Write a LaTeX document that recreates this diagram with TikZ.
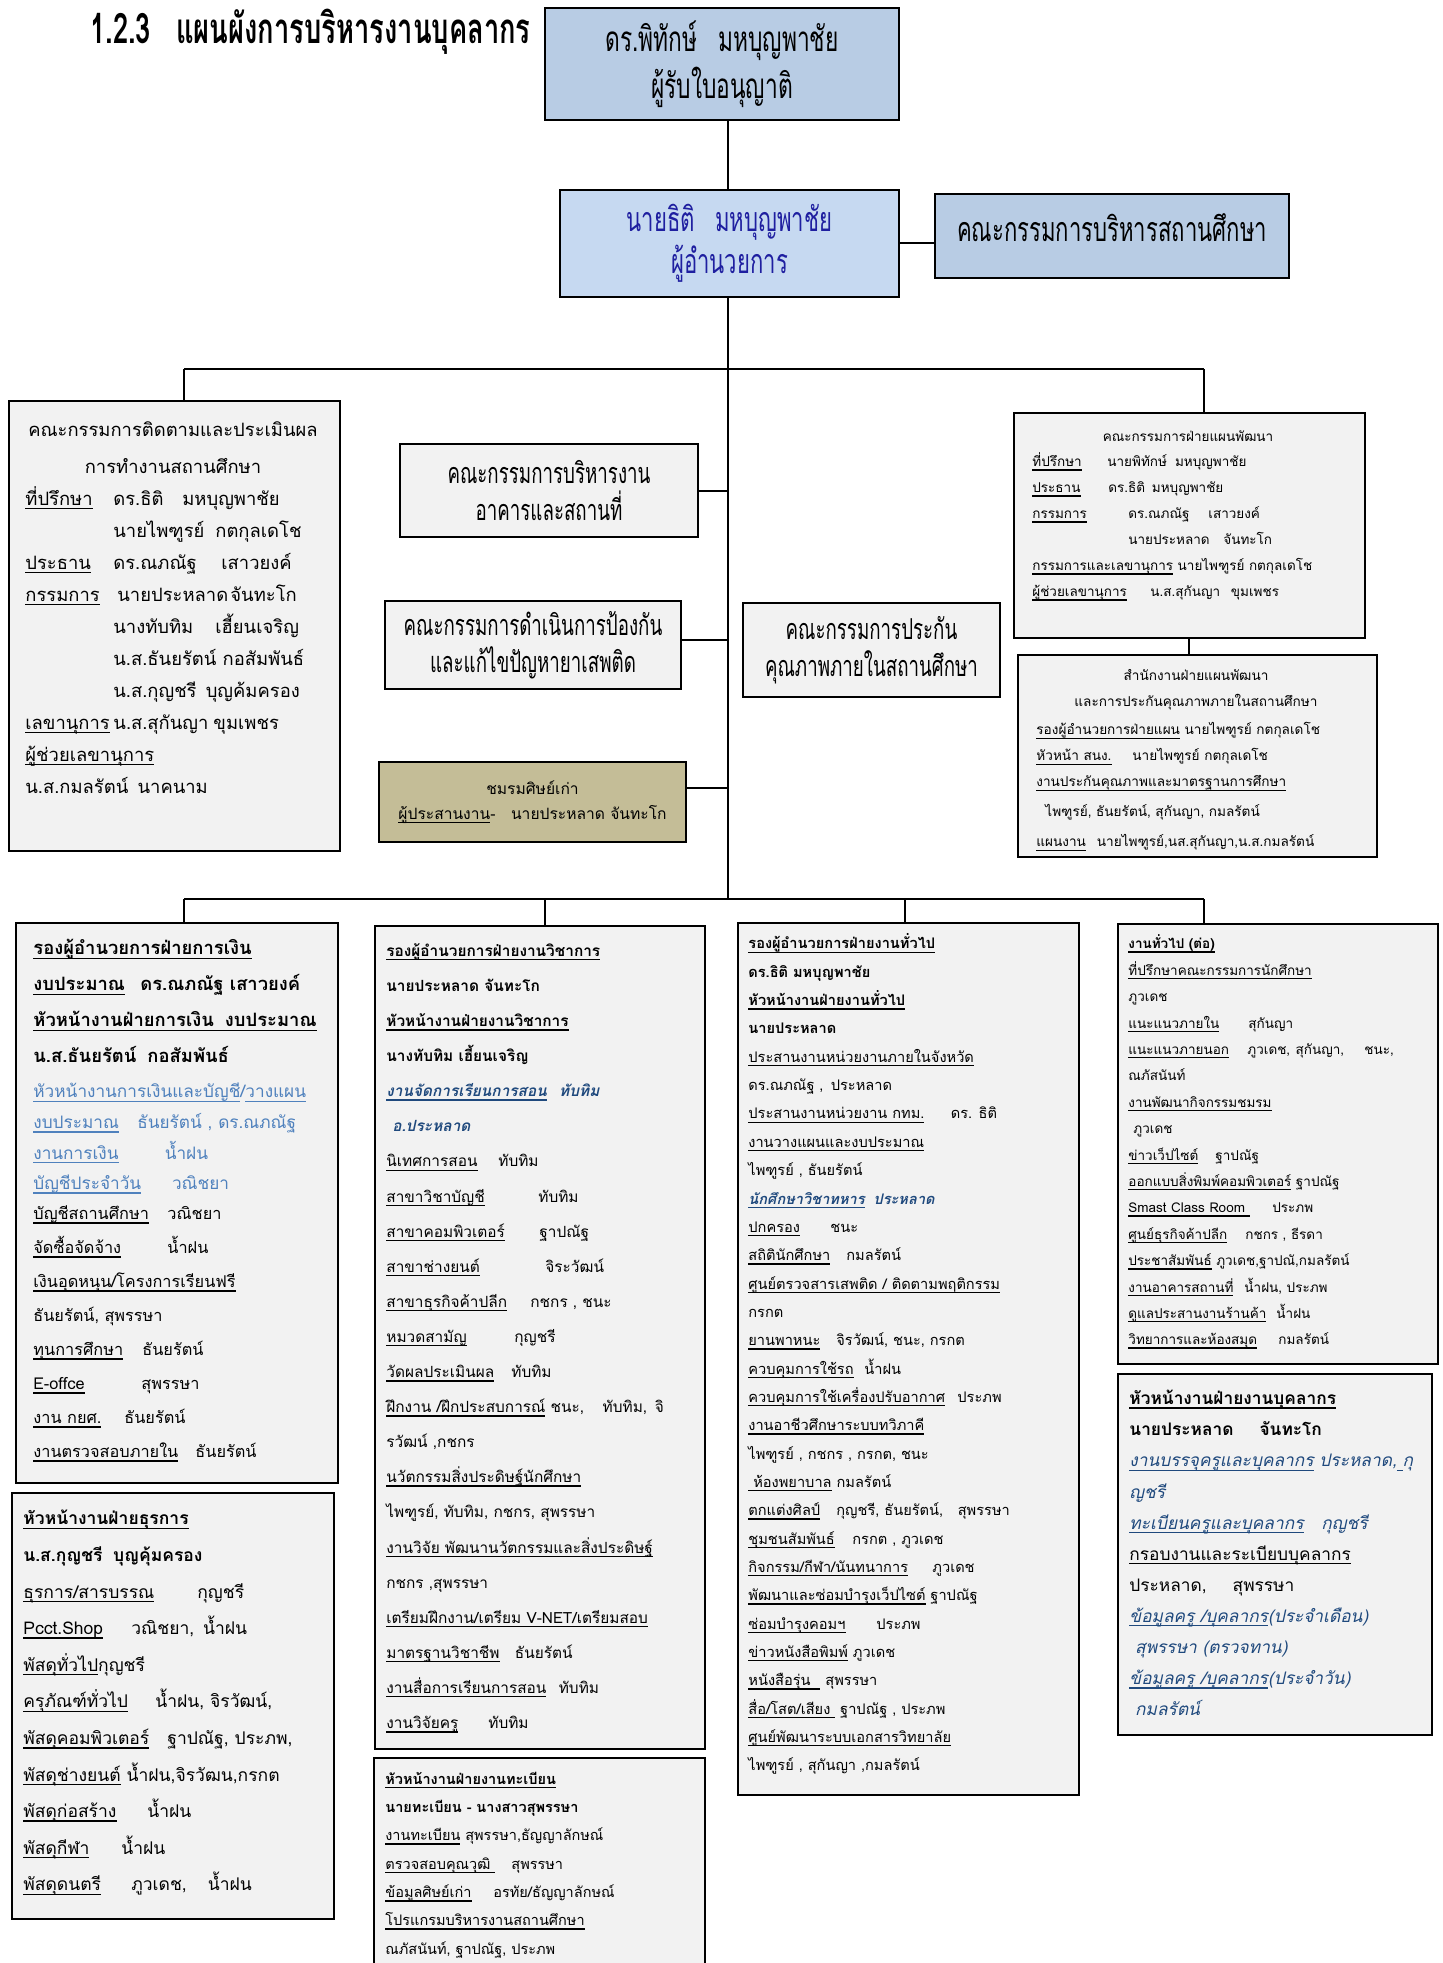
\documentclass[tikz,border=0pt]{standalone}
\usepackage{fontspec}
\setmainfont[Script=Thai]{Loma}
\newfontfamily\condfont[Script=Thai,FakeStretch=0.65]{Loma}
\usepackage{xcolor}
\usetikzlibrary{positioning}
\definecolor{hdblue}{RGB}{184,204,228}
\definecolor{dirblue}{RGB}{198,217,241}
\definecolor{boxgray}{RGB}{242,242,242}
\definecolor{khaki}{RGB}{196,189,151}
\definecolor{navytext}{RGB}{31,31,160}
\definecolor{linkblue}{RGB}{79,129,189}
\definecolor{darkblue}{RGB}{31,73,125}
\newcommand\ulx[1]{\setbox0\hbox{#1}\rlap{\vrule height -1.3pt depth 2pt width \wd0}\box0\relax}
\newcommand\lbl[2]{\makebox[#1][l]{#2}}
\newcommand\finhd{\fontsize{9.2}{17}\selectfont\bfseries}
\newcommand\finlink{\fontsize{8.6}{17}\selectfont\color{linkblue}}
\newcommand\blit{\itshape\color{darkblue}}

\begin{document}
\begin{tikzpicture}[x=0.5pt,y=-0.5pt,
    topbox/.style={draw,line width=1.3pt,fill=hdblue,inner sep=0pt,align=center,font=\condfont\fontsize{17.5}{23.5}\selectfont},
    midbox/.style={draw,line width=0.9pt,fill=boxgray,inner sep=0pt,align=center,font=\condfont\fontsize{14.4}{18.5}\selectfont},
    listbox/.style={draw,line width=0.9pt,fill=boxgray,inner sep=0pt,anchor=north west},
    listtext/.style={anchor=north west,inner sep=0pt,align=left},
    link/.style={line width=1pt}]
  \useasboundingbox (0,0) rectangle (1442,1963);

  % title
  \node[anchor=west,inner sep=0pt,font=\condfont\bfseries\fontsize{21}{24}\selectfont] (title) at (90,32) {1.2.3\hspace{0.6em}แผนผังการบริหารงานบุคลากร};

  % top of the chart
  \node[topbox,minimum width=177pt,minimum height=56pt] (lic) at (722,64) {ดร.พิทักษ์\hspace{0.6em}มหบุญพาชัย\\ผู้รับใบอนุญาติ};
  \node[topbox,fill=dirblue,text=navytext,minimum width=169.5pt,minimum height=53.5pt,font=\condfont\fontsize{17}{21}\selectfont] (dir) at (729.5,243.5) {นายธิติ\hspace{0.6em}มหบุญพาชัย\\ผู้อำนวยการ};
  \node[topbox,minimum width=177pt,minimum height=42pt] (board) at (1112,236) {};
  \node[inner sep=0pt,font=\condfont\fontsize{17}{20}\selectfont] (boardtxt) at (1112,228) {คณะกรรมการบริหารสถานศึกษา};

  % committees beside the trunk
  \node[midbox,minimum width=149pt,minimum height=46.5pt] (bldg) at (549,490.5) {คณะกรรมการบริหารงาน\\อาคารและสถานที่};
  \node[midbox,minimum width=148pt,minimum height=44pt] (drug) at (533,645) {คณะกรรมการดำเนินการป้องกัน\\และแก้ไขปัญหายาเสพติด};
  \node[midbox,minimum width=128.5pt,minimum height=47pt] (qa) at (871.5,650) {คณะกรรมการประกัน\\คุณภาพภายในสถานศึกษา};
  \node[midbox,fill=khaki,minimum width=153.5pt,minimum height=40pt,font=\fontsize{7.8}{12.5}\selectfont] (alum) at (532.5,802) {ชมรมศิษย์เก่า\\\ulx{ผู้ประสานงาน}-\hspace{1em}นายประหลาด จันทะโก};

  % monitoring committee
  \node[listbox,minimum width=165.5pt,minimum height=225pt] (mon) at (8,400) {};
  \node[align=center,inner sep=0pt,font=\fontsize{9.2}{18.5}\selectfont] (monhead) at (173,447.5) {คณะกรรมการติดตามและประเมินผล\\การทำงานสถานศึกษา};
  \node[listtext,font=\fontsize{9.2}{16}\selectfont] (monlist) at (25,482.6) {%
    \strut\lbl{44pt}{\ulx{ที่ปรึกษา}}\lbl{34.5pt}{ดร.ธิติ}มหบุญพาชัย\\
    \lbl{44pt}{}\lbl{51pt}{นายไพฑูรย์}กตกุลเดโช\\
    \lbl{44pt}{\ulx{ประธาน}}\lbl{54pt}{ดร.ณภณัฐ}เสาวยงค์\\
    \lbl{44pt}{\ulx{กรรมการ}}\hspace{2pt}\lbl{56.5pt}{นายประหลาด}จันทะโก\\
    \lbl{44pt}{}\lbl{51pt}{นางทับทิม}เฮี้ยนเจริญ\\
    \lbl{44pt}{}น.ส.ธันยรัตน์ กอสัมพันธ์\\
    \lbl{44pt}{}น.ส.กุญชรี\hspace{0.5em}บุญค้มครอง\\
    \lbl{44pt}{\ulx{เลขานุการ}}\lbl{50pt}{น.ส.สุกันญา}ขุมเพชร\\
    \ulx{ผู้ช่วยเลขานุการ}\\
    น.ส.กมลรัตน์\hspace{0.5em}นาคนาม};

  % planning committee and office
  \node[listbox,minimum width=175.5pt,minimum height=112.5pt] (plan) at (1013,412) {};
  \node[inner sep=0pt,font=\fontsize{6.75}{13}\selectfont] (planhead) at (1188,436) {คณะกรรมการฝ่ายแผนพัฒนา};
  \node[listtext,font=\fontsize{6.75}{13}\selectfont] (planlist) at (1032,448.2) {%
    \strut\lbl{37.5pt}{\ulx{ที่ปรึกษา}}นายพิทักษ์\hspace{0.6em}มหบุญพาชัย\\
    \lbl{38pt}{\ulx{ประธาน}}ดร.ธิติ\hspace{0.5em}มหบุญพาชัย\\
    \lbl{48pt}{\ulx{กรรมการ}}\lbl{40pt}{ดร.ณภณัฐ}เสาวยงค์\\
    \lbl{48pt}{}\lbl{47.5pt}{นายประหลาด}จันทะโก\\
    \ulx{กรรมการและเลขานุการ} นายไพฑูรย์ กตกุลเดโช\\
    \lbl{59pt}{\ulx{ผู้ช่วยเลขานุการ}}น.ส.สุกันญา\hspace{0.8em}ขุมเพชร};
  \node[listbox,minimum width=179.5pt,minimum height=101pt] (office) at (1017,654) {};
  \node[align=center,inner sep=0pt,font=\fontsize{6.8}{13}\selectfont] (officehead) at (1196,690) {สำนักงานฝ่ายแผนพัฒนา\\และการประกันคุณภาพภายในสถานศึกษา};
  \node[listtext,font=\fontsize{6.8}{13}\selectfont] (officelist) at (1036,716.3) {%
    \strut\ulx{รองผู้อำนวยการฝ่ายแผน} นายไพฑูรย์ กตกุลเดโช\\
    \lbl{48pt}{\ulx{หัวหน้า สนง.}}นายไพฑูรย์ กตกุลเดโช\\
    \ulx{งานประกันคุณภาพและมาตรฐานการศึกษา}\\[2pt]
    \hspace{4.5pt}ไพฑูรย์, ธันยรัตน์, สุกันญา, กมลรัตน์\\[2pt]
    \ulx{แผนงาน}\hspace{0.8em}นายไพฑูรย์,นส.สุกันญา,น.ส.กมลรัตน์};

  % finance
  \node[listbox,minimum width=161pt,minimum height=280pt] (fin) at (15,922) {};
  \node[listtext,font=\fontsize{8.15}{17}\selectfont] (finlist) at (33,930.7) {%
    \strut{\finhd\ulx{รองผู้อำนวยการฝ่ายการเงิน}}\\[1pt]
    {\finhd\lbl{53.5pt}{\ulx{งบประมาณ}}ดร.ณภณัฐ เสาวยงค์}\\[1pt]
    {\finhd\ulx{หัวหน้างานฝ่ายการเงิน\hspace{0.6em}งบประมาณ}}\\[1pt]
    {\finhd น.ส.ธันยรัตน์\hspace{0.6em}กอสัมพันธ์}\\[0.5pt]
    {\finlink\ulx{หัวหน้างานการเงินและบัญชี}/\ulx{วางแผน}}\\[-1.7pt]
    {\finlink\lbl{52pt}{\ulx{งบประมาณ}}ธันยรัตน์ , ดร.ณภณัฐ}\\[-1.7pt]
    {\finlink\lbl{65.7pt}{\ulx{งานการเงิน}}น้ำฝน}\\[-1.7pt]
    {\finlink\lbl{69.3pt}{\ulx{บัญชีประจำวัน}}วณิชยา}\\[-2pt]
    \lbl{67pt}{\ulx{บัญชีสถานศึกษา}}วณิชยา\\
    \lbl{67pt}{\ulx{จัดซื้อจัดจ้าง}}น้ำฝน\\
    \ulx{เงินอุดหนุน/โครงการเรียนฟรี}\\
    ธันยรัตน์, สุพรรษา\\
    \lbl{54.5pt}{\ulx{ทุนการศึกษา}}ธันยรัตน์\\
    \lbl{54pt}{\ulx{E-offce}}สุพรรษา\\
    \lbl{45.5pt}{\ulx{งาน กยศ.}}ธันยรัตน์\\
    \lbl{81pt}{\ulx{งานตรวจสอบภายใน}}ธันยรัตน์};

  % administration
  \node[listbox,minimum width=161pt,minimum height=213pt] (adm) at (11,1492) {};
  \node[listtext,font=\fontsize{8.75}{18.3}\selectfont] (admlist) at (23,1498.9) {%
    \strut{\bfseries\ulx{หัวหน้างานฝ่ายธุรการ}}\\
    {\bfseries น.ส.กุญชรี\hspace{0.6em}บุญคุ้มครอง}\\
    \lbl{87pt}{\ulx{ธุรการ/สารบรรณ}}กุญชรี\\
    \lbl{54pt}{\ulx{Pcct.Shop}}วณิชยา,\hspace{0.5em}น้ำฝน\\
    \ulx{พัสดุทั่วไป}กุญชรี\\
    \lbl{66pt}{\ulx{ครุภัณฑ์ทั่วไป}}น้ำฝน, จิรวัฒน์,\\
    \lbl{72pt}{\ulx{พัสดุคอมพิวเตอร์}}ฐาปณัฐ, ประภพ,\\
    \ulx{พัสดุช่างยนต์} น้ำฝน,จิรวัฒน,กรกต\\
    \lbl{62pt}{\ulx{พัสดุก่อสร้าง}}น้ำฝน\\
    \lbl{49pt}{\ulx{พัสดุกีฬา}}น้ำฝน\\
    \lbl{54pt}{\ulx{พัสดุดนตรี}}ภูวเดช,\hspace{1.2em}น้ำฝน};

  % academic affairs
  \node[listbox,minimum width=165pt,minimum height=411.5pt] (acad) at (374,925) {};
  \node[listtext,font=\fontsize{7.7}{17.55}\selectfont] (acadlist) at (386,931.4) {%
    \strut{\bfseries\ulx{รองผู้อำนวยการฝ่ายงานวิชาการ}}\\
    {\bfseries นายประหลาด จันทะโก}\\
    {\bfseries\ulx{หัวหน้างานฝ่ายงานวิชาการ}}\\
    {\bfseries นางทับทิม เฮี้ยนเจริญ}\\
    {\bfseries\blit\ulx{งานจัดการเรียนการสอน}\hspace{0.8em}ทับทิม}\\
    {\bfseries\blit\hspace{3pt}อ.ประหลาด}\\
    \lbl{56pt}{\ulx{นิเทศการสอน}}ทับทิม\\
    \lbl{76pt}{\ulx{สาขาวิชาบัญชี}}ทับทิม\\
    \lbl{76.5pt}{\ulx{สาขาคอมพิวเตอร์}}ฐาปณัฐ\\
    \lbl{79.5pt}{\ulx{สาขาช่างยนต์}}จิระวัฒน์\\
    \lbl{72pt}{\ulx{สาขาธุรกิจค้าปลีก}}กชกร , ชนะ\\
    \lbl{64pt}{\ulx{หมวดสามัญ}}กุญชรี\\
    \lbl{62.5pt}{\ulx{วัดผลประเมินผล}}ทับทิม\\
    \ulx{ฝึกงาน /ฝึกประสบการณ์} ชนะ,\hspace{1.2em}ทับทิม,\hspace{0.5em}จิ\\
    รวัฒน์ ,กชกร\\
    \ulx{นวัตกรรมสิ่งประดิษฐ์นักศึกษา}\\
    ไพฑูรย์, ทับทิม, กชกร, สุพรรษา\\
    \ulx{งานวิจัย พัฒนานวัตกรรมและสิ่งประดิษฐ์}\\
    กชกร ,สุพรรษา\\
    \ulx{เตรียมฝึกงาน/เตรียม V-NET/เตรียมสอบ}\\
    \ulx{มาตรฐานวิชาชีพ}\hspace{1em}ธันยรัตน์\\
    \ulx{งานสื่อการเรียนการสอน}\hspace{0.8em}ทับทิม\\
    \lbl{51pt}{\ulx{งานวิจัยครู}}ทับทิม};

  % registration
  \node[listbox,minimum width=165.5pt,minimum height=112pt] (reg) at (373,1757) {};
  \node[listtext,font=\fontsize{7.25}{14.17}\selectfont] (reglist) at (385,1763.9) {%
    \strut{\bfseries\ulx{หัวหน้างานฝ่ายงานทะเบียน}}\\
    {\bfseries นายทะเบียน - นางสาวสุพรรษา}\\
    \ulx{งานทะเบียน} สุพรรษา,ธัญญาลักษณ์\\
    \lbl{63pt}{\ulx{ตรวจสอบคุณวุฒิ\ }}สุพรรษา\\
    \lbl{54pt}{\ulx{ข้อมูลศิษย์เก่า}}อรทัย/ธัญญาลักษณ์\\
    \ulx{โปรแกรมบริหารงานสถานศึกษา}\\
    ณภัสนันท์, ฐาปณัฐ, ประภพ};

  % general affairs
  \node[listbox,minimum width=170.5pt,minimum height=436pt] (gen) at (737,922) {};
  \node[listtext,font=\fontsize{7.3}{14.17}\selectfont] (genlist) at (748,928.7) {%
    \strut{\bfseries\ulx{รองผู้อำนวยการฝ่ายงานทั่วไป}}\\
    {\bfseries ดร.ธิติ มหบุญพาชัย}\\
    {\bfseries\ulx{หัวหน้างานฝ่ายงานทั่วไป}}\\
    {\bfseries นายประหลาด}\\
    \ulx{ประสานงานหน่วยงานภายในจังหวัด}\\
    ดร.ณภณัฐ ,\hspace{0.5em}ประหลาด\\
    \ulx{ประสานงานหน่วยงาน กทม.}\hspace{1.8em}ดร. ธิติ\\
    \ulx{งานวางแผนและงบประมาณ}\\
    ไพฑูรย์ , ธันยรัตน์\\
    {\bfseries\blit\ulx{นักศึกษาวิชาทหาร}\hspace{0.6em}ประหลาด}\\
    \lbl{41pt}{\ulx{ปกครอง}}ชนะ\\
    \lbl{49pt}{\ulx{สถิตินักศึกษา}}กมลรัตน์\\
    \ulx{ศูนย์ตรวจสารเสพติด / ติดตามพฤติกรรม}\\
    กรกต\\
    \lbl{44pt}{\ulx{ยานพาหนะ}}จิรวัฒน์, ชนะ, กรกต\\
    \lbl{58pt}{\ulx{ควบคุมการใช้รถ}}น้ำฝน\\
    \lbl{104.5pt}{\ulx{ควบคุมการใช้เครื่องปรับอากาศ}}ประภพ\\
    \ulx{งานอาชีวศึกษาระบบทวิภาคี}\\
    ไพฑูรย์ , กชกร , กรกต, ชนะ\\
    \ulx{\ ห้องพยาบาล} กมลรัตน์\\
    \lbl{44pt}{\ulx{ตกแต่งศิลป์}}กุญชรี, ธันยรัตน์,\hspace{1em}สุพรรษา\\
    \lbl{52pt}{\ulx{ชุมชนสัมพันธ์}}กรกต , ภูวเดช\\
    \lbl{92pt}{\ulx{กิจกรรม/กีฬา/นันทนาการ}}ภูวเดช\\
    \ulx{พัฒนาและซ่อมบำรุงเว็ปไซต์} ฐาปณัฐ\\
    \lbl{64pt}{\ulx{ซ่อมบำรุงคอมฯ}}ประภพ\\
    \ulx{ข่าวหนังสือพิมพ์} ภูวเดช\\
    \ulx{หนังสือรุ่น\ \ } สุพรรษา\\
    \ulx{สื่อ/โสต/เสียง\ } ฐาปณัฐ , ประภพ\\
    \ulx{ศูนย์พัฒนาระบบเอกสารวิทยาลัย}\\
    ไพฑูรย์ , สุกันญา ,กมลรัตน์};

  % general affairs, continued
  \node[listbox,minimum width=160pt,minimum height=220pt] (gen2) at (1117,923) {};
  \node[listtext,font=\fontsize{6.75}{13.2}\selectfont] (gen2list) at (1128,930) {%
    \strut{\bfseries\ulx{งานทั่วไป (ต่อ)}}\\
    \ulx{ที่ปรึกษาคณะกรรมการนักศึกษา}\\
    ภูวเดช\\
    \lbl{60pt}{\ulx{แนะแนวภายใน}}สุกันญา\\
    \lbl{59.5pt}{\ulx{แนะแนวภายนอก}}ภูวเดช,\hspace{0.4em}สุกันญา,\hspace{1.5em}ชนะ,\\
    ณภัสนันท์\\
    \ulx{งานพัฒนากิจกรรมชมรม}\\
    \hspace{2.5pt}ภูวเดช\\
    \lbl{43.5pt}{\ulx{ข่าวเว็ปไซต์}}ฐาปณัฐ\\
    \ulx{ออกแบบสิ่งพิมพ์คอมพิวเตอร์} ฐาปณัฐ\\
    \lbl{72pt}{\ulx{Smast Class Room\ }}ประภพ\\
    \lbl{58.5pt}{\ulx{ศูนย์ธุรกิจค้าปลีก}}กชกร , ธีรดา\\
    \ulx{ประชาสัมพันธ์} ภูวเดช,ฐาปณั,กมลรัตน์\\
    \lbl{58pt}{\ulx{งานอาคารสถานที่}}น้ำฝน, ประภพ\\
    \lbl{74pt}{\ulx{ดูแลประสานงานร้านค้า}}น้ำฝน\\
    \lbl{75pt}{\ulx{วิทยาการและห้องสมุด}}กมลรัตน์};

  % personnel
  \node[listbox,minimum width=157pt,minimum height=180.5pt] (hr) at (1117,1373) {};
  \node[listtext,font=\fontsize{8.65}{15.55}\selectfont] (hrlist) at (1129,1382.6) {%
    \strut{\bfseries\ulx{หัวหน้างานฝ่ายงานบุคลากร}}\\
    {\bfseries นายประหลาด\hspace{1.5em}จันทะโก}\\
    {\blit\ulx{งานบรรจุครูและบุคลากร} ประหลาด,\ulx{\ }กุ}\\
    {\blit ญชรี}\\
    {\blit\lbl{96pt}{\ulx{ทะเบียนครูและบุคลากร}}กุญชรี}\\
    \ulx{กรอบงานและระเบียบบุคลากร}\\
    ประหลาด,\hspace{1.5em}สุพรรษา\\
    {\blit\ulx{ข้อมูลครู /บุคลากร}(ประจำเดือน)}\\
    {\blit\ สุพรรษา (ตรวจทาน)}\\
    {\blit\ulx{ข้อมูลครู /บุคลากร}(ประจำวัน)}\\
    {\blit\ กมลรัตน์}};

  % connectors
  \coordinate (hub1) at (728,369);
  \coordinate (hub2) at (728,899);
  \coordinate (h1l) at (184,369);
  \coordinate (h1r) at (1204,369);
  \coordinate (h2a) at (184,899);
  \coordinate (h2b) at (545,899);
  \coordinate (h2c) at (905,899);
  \coordinate (h2d) at (1204,899);
  \draw[link] (lic.south -| hub1) -- (dir.north -| hub1);
  \draw[link] (dir.south -| hub1) -- (hub2);
  \draw[link] (dir.east) -- (dir.east -| board.west);
  \draw[link] (h1l) -- (h1r);
  \draw[link] (h1l) -- (mon.north -| h1l);
  \draw[link] (h1r) -- (plan.north -| h1r);
  \draw[link] (plan.south) -- (plan.south |- office.north);
  \draw[link] (bldg.east) -- (bldg.east -| hub1);
  \draw[link] ([yshift=2.5pt]drug.east) -- ([yshift=2.5pt]drug.east -| hub1);
  \draw[link] ([yshift=7pt]alum.east) -- ([yshift=7pt]alum.east -| hub1);
  \draw[link] (h2a) -- (h2d);
  \draw[link] (h2a) -- (fin.north -| h2a);
  \draw[link] (h2b) -- (acad.north -| h2b);
  \draw[link] (h2c) -- (gen.north -| h2c);
  \draw[link] (h2d) -- (gen2.north -| h2d);
\end{tikzpicture}
\end{document}
